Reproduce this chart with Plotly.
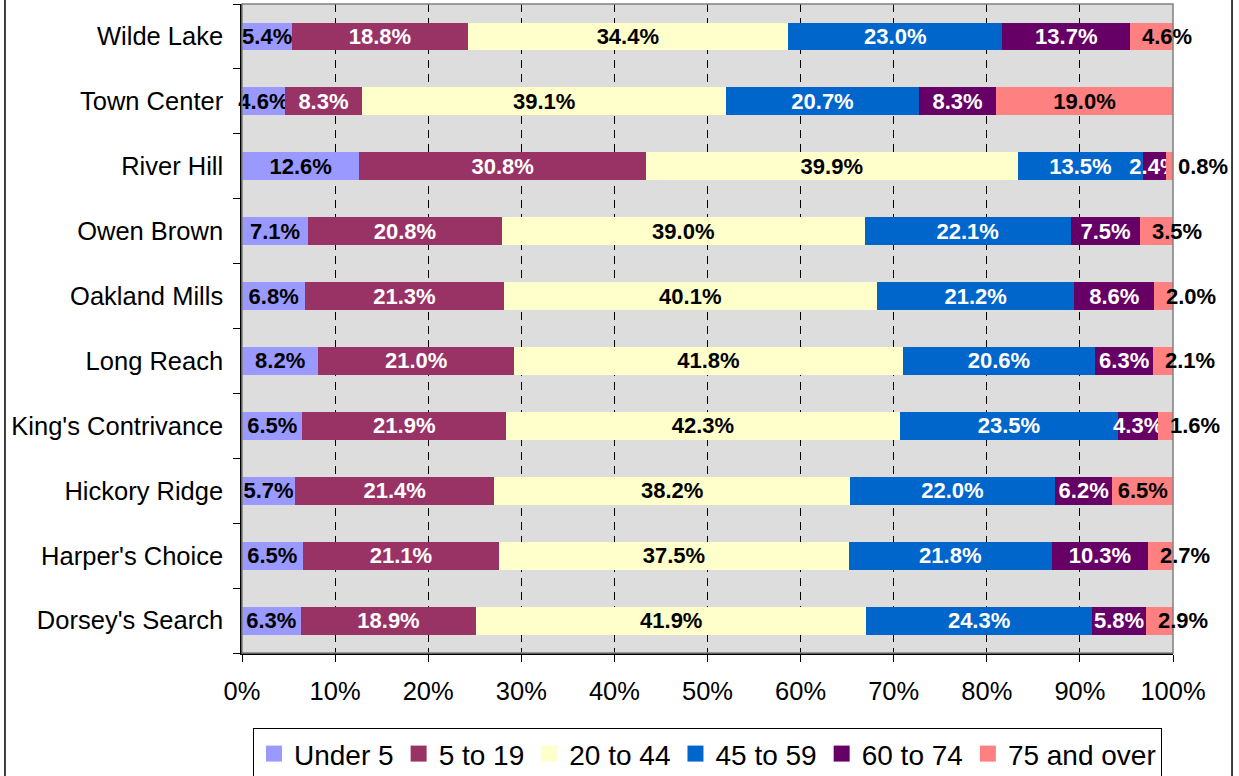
import plotly.graph_objects as go

villages = ["Dorsey's Search", "Harper's Choice", "Hickory Ridge", "King's Contrivance",
            "Long Reach", "Oakland Mills", "Owen Brown", "River Hill", "Town Center", "Wilde Lake"]

under_5 = [6.3, 6.5, 5.7, 6.5, 8.2, 6.8, 7.1, 12.6, 4.6, 5.4]
age_5_19 = [18.9, 21.1, 21.4, 21.9, 21.0, 21.3, 20.8, 30.8, 8.3, 18.8]
age_20_44 = [41.9, 37.5, 38.2, 42.3, 41.8, 40.1, 39.0, 39.9, 39.1, 34.4]
age_45_59 = [24.3, 21.8, 22.0, 23.5, 20.6, 21.2, 22.1, 13.5, 20.7, 23.0]
age_60_74 = [5.8, 10.3, 6.2, 4.3, 6.3, 8.6, 7.5, 2.4, 8.3, 13.7]
age_75_up = [2.9, 2.7, 6.5, 1.6, 2.1, 2.0, 3.5, 0.8, 19.0, 4.6]

series = [
    ("Under 5", under_5, "#9999FF", "black"),
    ("5 to 19", age_5_19, "#993366", "white"),
    ("20 to 44", age_20_44, "#FFFFCC", "black"),
    ("45 to 59", age_45_59, "#0066CC", "white"),
    ("60 to 74", age_60_74, "#660066", "white"),
    ("75 and over", age_75_up, "#FF8080", "black"),
]

FONT = "Liberation Sans, Arial, sans-serif"
LABEL_FONT = dict(family=FONT, size=22, weight="bold")

totals = [sum(s[1][k] for s in series) for k in range(len(villages))]

fig = go.Figure()
annotations = []
for i, (name, vals, color, tcolor) in enumerate(series):
    last = i == len(series) - 1
    # small end segments: label is drawn by an annotation that spills past the bar
    texts = [("" if (last and v < 6) else f"{v:.1f}%") for v in vals]
    fig.add_trace(go.Bar(
        y=villages, x=vals, name=name, orientation="h",
        marker=dict(color=color, line=dict(width=0)),
        text=texts, textposition="inside", insidetextanchor="middle", textangle=0,
        constraintext="none", cliponaxis=False,
        textfont=dict(color=tcolor, **LABEL_FONT),
        hoverinfo="skip", showlegend=False,
    ))
    # legend swatch (bigger squares than the default bar swatch)
    fig.add_trace(go.Scatter(
        x=[None], y=[None], mode="markers", name=name,
        marker=dict(symbol="square", size=18, color=color),
    ))
    if last:
        for v_name, v, total in zip(villages, vals, totals):
            if v < 6:
                annotations.append(dict(
                    x=100 - v / total * 100, y=v_name, xref="x", yref="y",
                    text=f"{v:.1f}%", showarrow=False, xanchor="left", xshift=10,
                    font=dict(color=tcolor, **LABEL_FONT),
                ))

fig.update_layout(
    barmode="stack", barnorm="percent", bargap=0.57,
    width=1239, height=776,
    margin=dict(l=242, r=66, t=4, b=123, autoexpand=False),
    paper_bgcolor="white", plot_bgcolor="#DDDDDD",
    font=dict(family=FONT, size=25.5, color="black"),
    showlegend=True,
    legend=dict(orientation="h", x=0.5, xanchor="center",
                yref="container", y=0.062, yanchor="top",
                bordercolor="black", borderwidth=1, bgcolor="white",
                font=dict(size=28), traceorder="normal"),
    annotations=annotations,
    shapes=[
        dict(type="rect", xref="paper", yref="paper", x0=0, x1=1, y0=0, y1=1,
             line=dict(color="#808080", width=1.5), layer="above"),
        dict(type="rect", xref="paper", yref="paper", x0=-0.2546, x1=1.0634, y0=-0.4, y1=1.1,
             line=dict(color="black", width=1.5), layer="above"),
    ],
)

fig.update_xaxes(range=[0, 100], dtick=10, ticksuffix="%", showgrid=True,
                 gridcolor="black", griddash="8px,6px", gridwidth=1,
                 showline=True, linecolor="black", linewidth=1.5,
                 ticks="outside", ticklen=7, tickcolor="black",
                 ticklabelstandoff=8, zeroline=False, fixedrange=True)
fig.update_yaxes(categoryorder="array", categoryarray=villages,
                 showline=True, linecolor="black", linewidth=1.5,
                 ticks="outside", ticklen=7, tickcolor="black", tickson="boundaries",
                 ticklabelstandoff=12, showgrid=False, fixedrange=True)

fig.write_html("out.html", config={"displayModeBar": False},
               post_script="document.body.style.margin='0';")
